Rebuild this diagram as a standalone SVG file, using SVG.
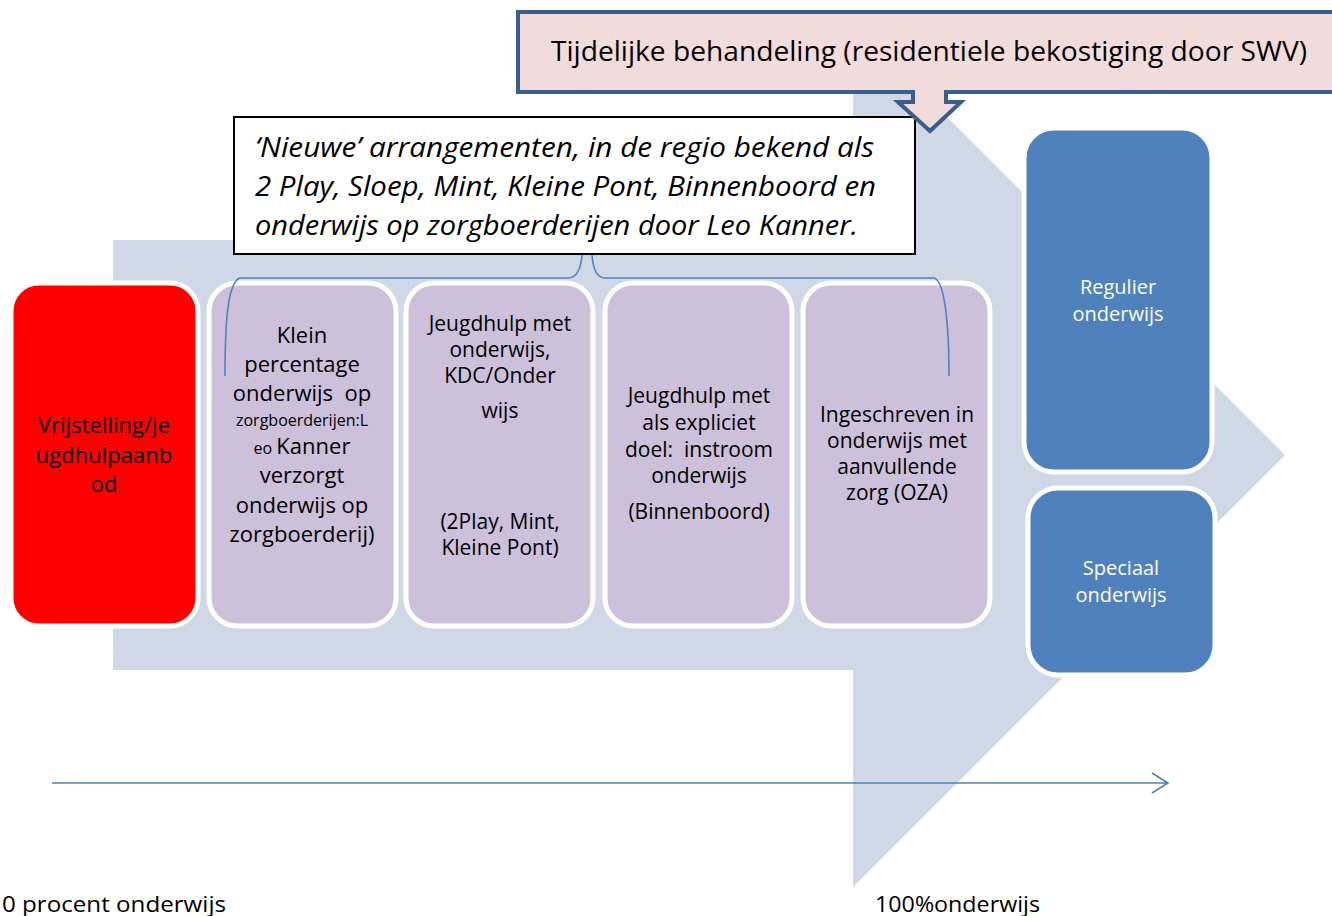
<svg xmlns="http://www.w3.org/2000/svg" width="1332" height="916" viewBox="0 0 1332 916">
<style>
.bg{fill:#D0D8E8}
.box{stroke:#FFFFFF;stroke-width:5}
.red{fill:#FF0000}
.pur{fill:#CCC0DA}
.blu{fill:#4F81BD}
.t{font-family:"Open Sans","Liberation Sans",sans-serif;fill:#000;text-anchor:middle}
.w{fill:#FFFFFF}
.it{font-family:"Open Sans","Liberation Sans",sans-serif;font-style:italic;font-size:27px;fill:#000}
.lbl{font-family:"Open Sans","Liberation Sans",sans-serif;font-size:22px;fill:#000}
.conn{fill:none;stroke:#4F81BD;stroke-width:1.6}
</style>
<rect width="1332" height="916" fill="#FFFFFF"/>
<g id="background-arrow">
<path class="bg" d="M113,240 H853 V23 L1285,455 L853,887 V670 H113 Z"/>
</g>
<g id="node-vrijstelling">
<rect class="box red" x="11" y="283" width="187" height="343" rx="28"/>
<text class="t" font-size="22" x="104" y="433">Vrijstelling/je</text>
<text class="t" font-size="22" x="104" y="463">ugdhulpaanb</text>
<text class="t" font-size="22" x="104" y="492">od</text>
</g>
<g id="node-klein">
<rect class="box pur" x="209" y="283" width="187" height="343" rx="28"/>
<text class="t" font-size="22" x="302" y="343">Klein</text>
<text class="t" font-size="22" x="302" y="372">percentage</text>
<text class="t" font-size="22" x="302" y="401" xml:space="preserve">onderwijs  op</text>
<text class="t" font-size="16" x="302" y="426">zorgboerderijen:L</text>
<text class="t" font-size="22" x="302" y="454"><tspan font-size="16">eo </tspan>Kanner</text>
<text class="t" font-size="22" x="302" y="483">verzorgt</text>
<text class="t" font-size="22" x="302" y="513">onderwijs op</text>
<text class="t" font-size="22" x="302" y="542">zorgboerderij)</text>
</g>
<g id="node-jeugdhulp-onderwijs">
<rect class="box pur" x="406" y="283" width="187" height="343" rx="28"/>
<text class="t" font-size="21" x="500" y="331">Jeugdhulp met</text>
<text class="t" font-size="21" x="500" y="357">onderwijs,</text>
<text class="t" font-size="21" x="500" y="383">KDC/Onder</text>
<text class="t" font-size="21" x="500" y="418">wijs</text>
<text class="t" font-size="21" x="500" y="529">(2Play, Mint,</text>
<text class="t" font-size="21" x="500" y="555">Kleine Pont)</text>
</g>
<g id="node-instroom">
<rect class="box pur" x="605" y="283" width="187" height="343" rx="28"/>
<text class="t" font-size="21" x="699" y="403">Jeugdhulp met</text>
<text class="t" font-size="21" x="699" y="430">als expliciet</text>
<text class="t" font-size="21" x="699" y="457" xml:space="preserve">doel:  instroom</text>
<text class="t" font-size="21" x="699" y="483">onderwijs</text>
<text class="t" font-size="21" x="699" y="519">(Binnenboord)</text>
</g>
<g id="node-oza">
<rect class="box pur" x="803" y="283" width="187" height="343" rx="28"/>
<text class="t" font-size="21" x="897" y="422">Ingeschreven in</text>
<text class="t" font-size="21" x="897" y="448">onderwijs met</text>
<text class="t" font-size="21" x="897" y="474">aanvullende</text>
<text class="t" font-size="21" x="897" y="500">zorg (OZA)</text>
</g>
<g id="node-regulier">
<rect class="box blu" x="1024" y="128" width="188" height="344" rx="30"/>
<text class="t w" font-size="20" x="1118" y="294">Regulier</text>
<text class="t w" font-size="20" x="1118" y="321">onderwijs</text>
</g>
<g id="node-speciaal">
<rect class="box blu" x="1028" y="488" width="187" height="187" rx="30"/>
<text class="t w" font-size="20" x="1121" y="575">Speciaal</text>
<text class="t w" font-size="20" x="1121" y="602">onderwijs</text>
</g>
<g id="node-nieuwe">
<rect x="234" y="117" width="681" height="137" fill="#FFFFFF" stroke="#000" stroke-width="2"/>
<text class="it" x="255" y="157" textLength="619" lengthAdjust="spacingAndGlyphs">‘Nieuwe’ arrangementen, in de regio bekend als</text>
<text class="it" x="255" y="196" textLength="621" lengthAdjust="spacingAndGlyphs">2 Play, Sloep, Mint, Kleine Pont, Binnenboord en</text>
<text class="it" x="255" y="235" textLength="603" lengthAdjust="spacingAndGlyphs">onderwijs op zorgboerderijen door Leo Kanner.</text>
</g>
<g id="node-tijdelijk">
<path d="M518,12 H1345 V92 H946 V102 H961 L930,131 L898,102 H913 V92 H518 Z" fill="#F2DCDB" stroke="#3A5E8C" stroke-width="4" stroke-linejoin="miter"/>
<text class="t" font-size="27" x="929" y="61" textLength="756" lengthAdjust="spacingAndGlyphs">Tijdelijke behandeling (residentiele bekostiging door SWV)</text>
</g>
<g id="connectors">
<path class="conn" d="M225,376 C225,320 228,282 240,278 L568,278 C578,278 581,268 582,255 M592,255 C593,268 596,278 605,278 L934,278 C944,280 949,320 949,376"/>
<path class="conn" stroke-width="2" d="M52,783 H1168 M1152,773 L1168,783 L1152,793"/>
</g>
<g id="labels">
<text class="lbl" x="2" y="912" textLength="224" lengthAdjust="spacingAndGlyphs">0 procent onderwijs</text>
<text class="lbl" x="875" y="912" textLength="165" lengthAdjust="spacingAndGlyphs">100%onderwijs</text>
</g>
</svg>
